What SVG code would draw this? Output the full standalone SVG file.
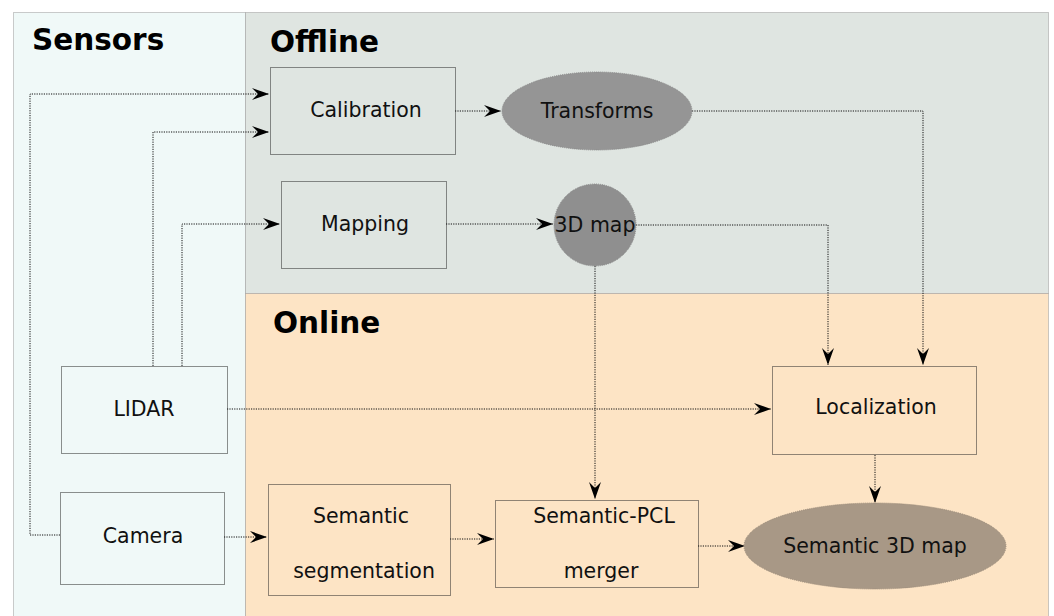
<svg xmlns="http://www.w3.org/2000/svg" width="1054" height="616" viewBox="0 0 1054 616">
<style>
.panel{stroke:#999;stroke-width:1;stroke-dasharray:1,1}
.box{fill:none;stroke:#222;stroke-width:1;stroke-dasharray:1,1}
.conn{fill:none;stroke:#111;stroke-width:1;stroke-dasharray:1.2,1.2}
.h{font-family:"DejaVu Sans",sans-serif;font-weight:bold;font-size:29.5px;fill:#000}
.t{font-family:"DejaVu Sans",sans-serif;font-size:20.5px;fill:#111;text-anchor:middle}
</style>
<defs>
<marker id="ar" markerWidth="18" markerHeight="14" viewBox="-17 -7 18 14" refX="0" refY="0" orient="auto" markerUnits="userSpaceOnUse">
<path d="M0,0 L-17,-6 L-11,0 L-17,6 Z" fill="#000"/>
</marker>
</defs>
<rect width="1054" height="616" fill="#fff"/>
<g id="panels">
<rect class="panel" x="13.5" y="12.5" width="232" height="610" fill="#f0f9f8"/>
<rect class="panel" x="245.5" y="12.5" width="803" height="281" fill="#dfe5e1"/>
<rect class="panel" x="245.5" y="293.5" width="803" height="330" fill="#fde4c5"/>
<text class="h" x="32" y="50">Sensors</text>
<text class="h" x="270" y="52">Offline</text>
<text class="h" x="273" y="333">Online</text>
</g>
<g id="connectors">
<path class="conn" d="M60,535 H30 V94 H269" marker-end="url(#ar)"/>
<path class="conn" d="M153,366 V132 H269" marker-end="url(#ar)"/>
<path class="conn" d="M182,366 V224 H280" marker-end="url(#ar)"/>
<path class="conn" d="M455,111 H501" marker-end="url(#ar)"/>
<path class="conn" d="M692,111 H923 V365" marker-end="url(#ar)"/>
<path class="conn" d="M446,224 H553" marker-end="url(#ar)"/>
<path class="conn" d="M636,225 H828 V365" marker-end="url(#ar)"/>
<path class="conn" d="M595,266 V499" marker-end="url(#ar)"/>
<path class="conn" d="M227,409 H771" marker-end="url(#ar)"/>
<path class="conn" d="M875,455 V503" marker-end="url(#ar)"/>
<path class="conn" d="M224,537 H267" marker-end="url(#ar)"/>
<path class="conn" d="M450,539 H494" marker-end="url(#ar)"/>
<path class="conn" d="M698,546 H745" marker-end="url(#ar)"/>
</g>
<g id="calibration"><rect class="box" x="270.5" y="67.5" width="185" height="87"/><text class="t" x="366" y="117">Calibration</text></g>
<g id="transforms"><ellipse cx="597" cy="111" rx="95" ry="39" fill="#959595" stroke="#8a8a8a" stroke-dasharray="1,1"/><text class="t" x="597" y="118">Transforms</text></g>
<g id="mapping"><rect class="box" x="281.5" y="181.5" width="165" height="87"/><text class="t" x="365" y="231">Mapping</text></g>
<g id="map3d"><circle cx="595" cy="225" r="41" fill="#8f8f8f" stroke="#888" stroke-dasharray="1,1"/><text class="t" x="595" y="232">3D map</text></g>
<g id="lidar"><rect class="box" x="61.5" y="366.5" width="166" height="87"/><text class="t" x="144" y="416">LIDAR</text></g>
<g id="camera"><rect class="box" x="60.5" y="492.5" width="164" height="92"/><text class="t" x="143" y="543">Camera</text></g>
<g id="localization"><rect class="box" x="772.5" y="366.5" width="204" height="88"/><text class="t" x="876" y="414">Localization</text></g>
<g id="segmentation"><rect class="box" x="268.5" y="484.5" width="182" height="111"/><text class="t" x="361" y="523">Semantic</text><text class="t" x="364" y="578">segmentation</text></g>
<g id="merger"><rect class="box" x="495.5" y="500.5" width="203" height="87"/><text class="t" x="604" y="523">Semantic-PCL</text><text class="t" x="601" y="578">merger</text></g>
<g id="semantic3d"><ellipse cx="875" cy="546" rx="131" ry="43" fill="#a89886" stroke="#9e8e7c" stroke-dasharray="1,1"/><text class="t" x="875" y="553">Semantic 3D map</text></g>
</svg>
